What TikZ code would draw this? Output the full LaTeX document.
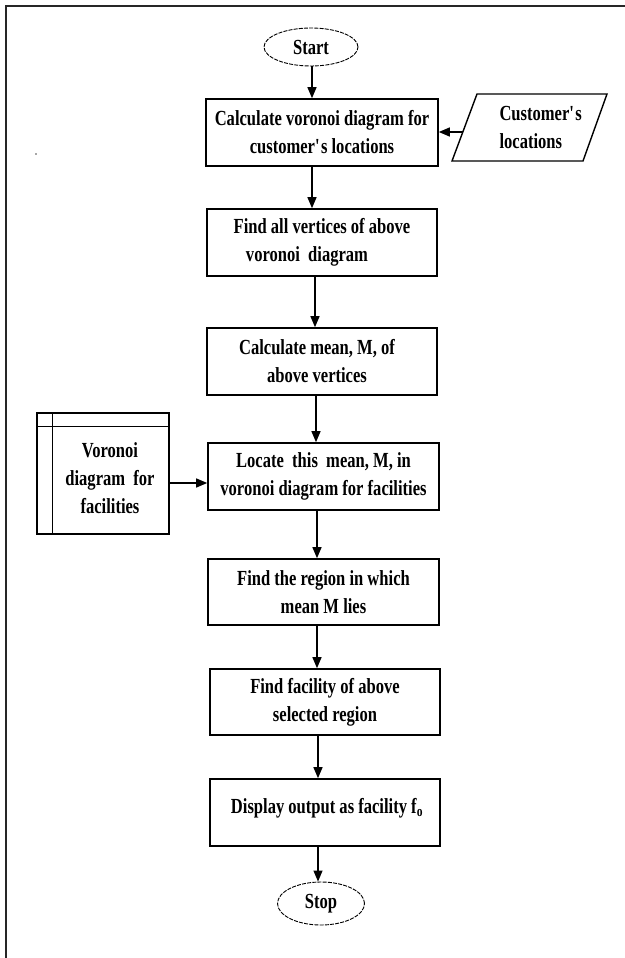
\documentclass[tikz,border=0pt]{standalone}
\usepackage{fontspec}
\setmainfont{Liberation Serif}[FakeStretch=0.77]
\usetikzlibrary{shapes.geometric,arrows.meta}
\begin{document}
\begin{tikzpicture}[x=1pt,y=-1pt,
  txt/.style={font=\fontsize{21.5}{28}\selectfont\bfseries, align=center, text=black},
  procbox/.style={draw, line width=1.6pt, inner sep=0pt, txt},
  term/.style={ellipse, draw, line width=0.9pt, dash pattern=on 4pt off 1.2pt, inner sep=0pt, txt},
  arr/.style={line width=1.3pt, -{Triangle[length=11pt,width=9pt]}},
  frameline/.style={line width=2.4pt, black!85}]
\useasboundingbox (0,0) rectangle (624,958);
% outer frame (left and top only)
\draw[frameline] (6,958) -- (6,6) -- (625,6);
\fill[black!70] (36,154) circle (0.9pt);

% terminals
\node[term, minimum width=94pt, minimum height=38pt] (start) at (311,47) {Start};
\node[term, minimum width=87pt, minimum height=43pt] (stop) at (321,903.5) {Stop};

% process boxes
\node[procbox, minimum width=232pt, minimum height=67pt] (b1) at (322,132.5) {Calculate voronoi diagram for\\customer\textquotesingle s locations};
\node[procbox, minimum width=230pt, minimum height=67pt] (b2) at (322,242.5) {Find all vertices of above\\voronoi\ \ diagram\hspace*{30pt}};
\node[procbox, minimum width=230pt, minimum height=67pt] (b3) at (322,361.5) {Calculate mean, M, of\hspace*{10pt}\\above vertices\hspace*{10pt}};
\node[procbox, minimum width=231pt, minimum height=67pt] (b4) at (323.5,476.5) {Locate\ \ this\ \ mean, M, in\\voronoi diagram for facilities};
\node[procbox, minimum width=231pt, minimum height=66pt] (b5) at (323.5,592) {Find the region in which\\mean M lies};
\node[procbox, minimum width=230pt, minimum height=66pt] (b6) at (325,702) {Find facility of above\\selected region};
\node[procbox, minimum width=230pt, minimum height=67pt] (b7) at (325,812.5) {};
\node[txt] (t7) at (327,808) {Display output as facility f\textsubscript{o}};

% input parallelogram
\draw[line width=1.4pt] (477,94) -- (607,94) -- (583,161) -- (452,161) -- cycle;
\node[txt, align=left, anchor=west] (cust) at (496,127) {Customer\textquotesingle s\\locations};
\coordinate (pl) at (463,132);

% stored data box
\node[draw, line width=1.6pt, minimum width=132pt, minimum height=121pt, inner sep=0pt] (vd) at (103,473.5) {};
\draw[line width=1.3pt] ([xshift=16pt]vd.north west) -- ([xshift=16pt]vd.south west);
\draw[line width=1.3pt] ([yshift=-14pt]vd.north west) -- ([yshift=-14pt]vd.north east);
\node[txt] (vdt) at (110,478) {Voronoi\\diagram\ \ for\\facilities};

% arrow x positions
\coordinate (x1) at (312,0);
\coordinate (x2) at (312,0);
\coordinate (x3) at (315,0);
\coordinate (x4) at (316,0);
\coordinate (x5) at (317,0);
\coordinate (x6) at (317,0);
\coordinate (x7) at (318,0);
\coordinate (x8) at (318,0);
\coordinate (ay) at (0,483);

% connectors
\draw[arr] (start.south -| x1) -- (b1.north -| x1);
\draw[arr] (b1.south -| x2) -- (b2.north -| x2);
\draw[arr] (b2.south -| x3) -- (b3.north -| x3);
\draw[arr] (b3.south -| x4) -- (b4.north -| x4);
\draw[arr] (b4.south -| x5) -- (b5.north -| x5);
\draw[arr] (b5.south -| x6) -- (b6.north -| x6);
\draw[arr] (b6.south -| x7) -- (b7.north -| x7);
\draw[arr] (b7.south -| x8) -- (stop.north -| x8);
\draw[arr] (pl) -- (b1.east |- pl);
\draw[arr] (vd.east |- ay) -- (b4.west |- ay);
\end{tikzpicture}
\end{document}
